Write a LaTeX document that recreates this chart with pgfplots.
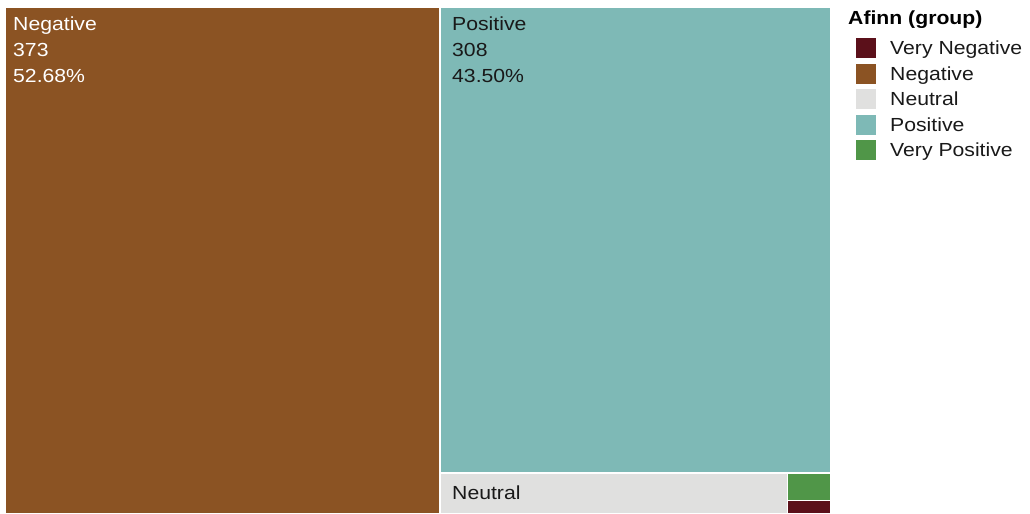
\documentclass[border=0pt]{standalone}
\usepackage{pgfplots}
\pgfplotsset{compat=1.18}
\usepackage{fontspec}
\setmainfont[FakeStretch=1.12]{Liberation Sans}
\definecolor{cVN}{RGB}{91,16,26}
\definecolor{cNeg}{RGB}{139,83,35}
\definecolor{cNeu}{RGB}{224,224,223}
\definecolor{cPos}{RGB}{126,185,182}
\definecolor{cVP}{RGB}{80,150,72}
\begin{document}
\begin{tikzpicture}[x=1bp,y=1bp]
\path[use as bounding box] (0,0) rectangle (1030,514);
\begin{axis}[hide axis, scale only axis, width=826bp, height=507bp,
  at={(5bp,0bp)}, anchor=south west,
  xmin=0, xmax=1, ymin=0, ymax=1]
% counts: Very Negative 1, Negative 373, Neutral 24, Positive 308, Very Positive 2 (total 708)
\addplot[fill=cNeg, draw=white, line width=1.5bp] coordinates {(0,0) (0.52684,0) (0.52684,1) (0,1)} --cycle;
\addplot[fill=cPos, draw=white, line width=1.5bp] coordinates {(0.52684,0.08060) (1,0.08060) (1,1) (0.52684,1)} --cycle;
\addplot[fill=cNeu, draw=white, line width=1.5bp] coordinates {(0.52684,0) (0.94743,0) (0.94743,0.08060) (0.52684,0.08060)} --cycle;
\addplot[fill=cVP, draw=white, line width=1.5bp] coordinates {(0.94743,0.02687) (1,0.02687) (1,0.08060) (0.94743,0.08060)} --cycle;
\addplot[fill=cVN, draw=white, line width=1.5bp] coordinates {(0.94743,0) (1,0) (1,0.02687) (0.94743,0.02687)} --cycle;
\end{axis}
\begin{scope}[every node/.style={inner sep=0pt, anchor=base west, font=\fontsize{19}{23}\selectfont}]
\node[text=white] at (13,514-30.5) {Negative};
\node[text=white] at (13,514-56.5) {373};
\node[text=white] at (13,514-82.5) {52.68\%};
\node[text=black!90] at (452,514-30.5) {Positive};
\node[text=black!90] at (452,514-56.5) {308};
\node[text=black!90] at (452,514-82.5) {43.50\%};
\node[text=black!90] at (452,514-499.3) {Neutral};
% legend
\node[text=black] at (848,514-25) {\bfseries Afinn (group)};
\foreach \c/\t [count=\i from 0] in {cVN/Very Negative,cNeg/Negative,cNeu/Neutral,cPos/Positive,cVP/Very Positive}{
  \fill[\c] (855.7,514-38-25.6*\i) rectangle (875.7,514-58-25.6*\i);
  \node[text=black!90] at (890,514-54.5-25.6*\i) {\t};
}
\end{scope}
\end{tikzpicture}
\end{document}
